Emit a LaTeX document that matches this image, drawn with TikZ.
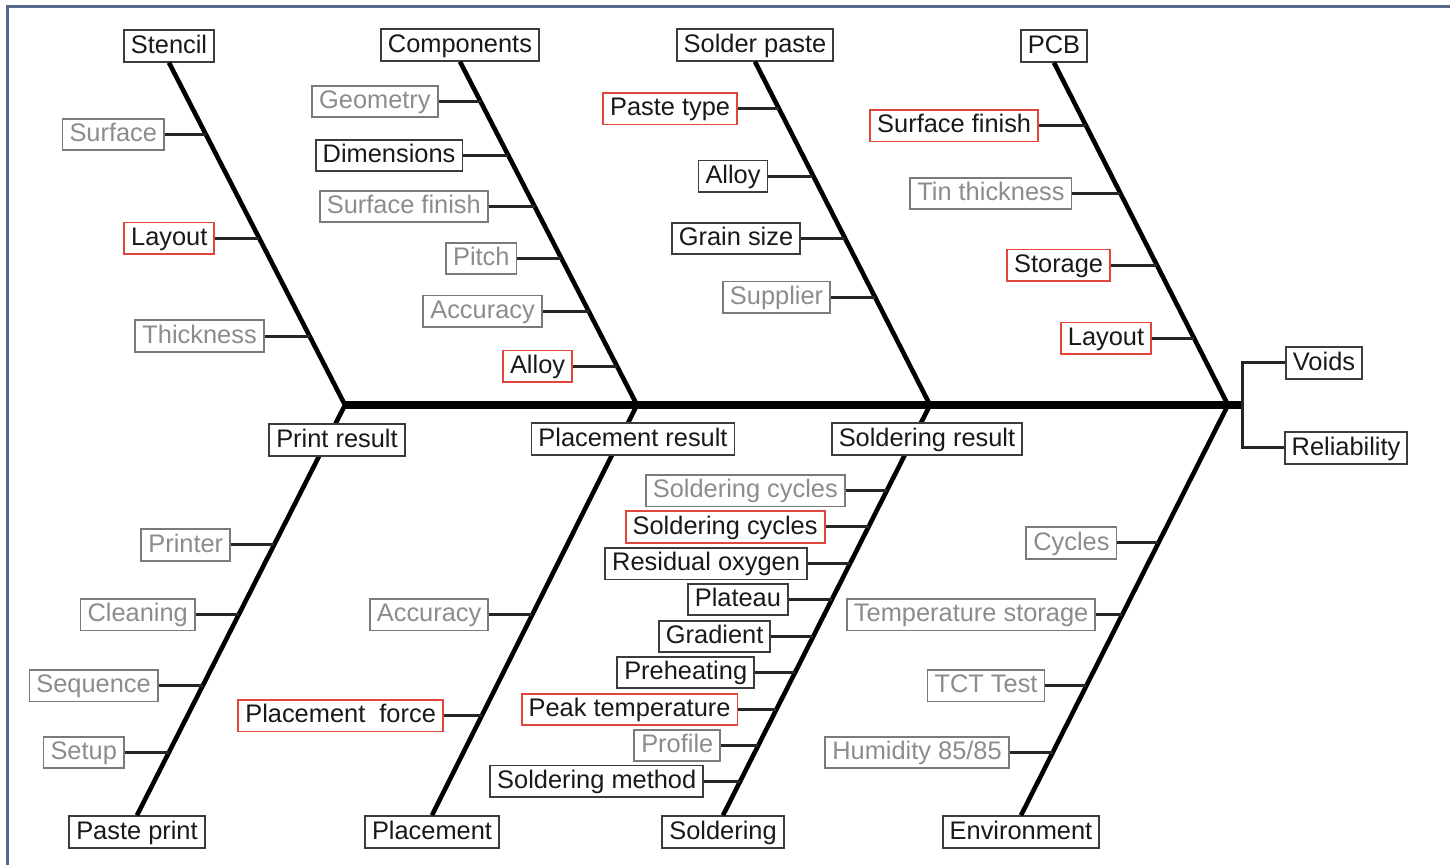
\documentclass[tikz,border=0pt]{standalone}
\usepackage{fontspec}
\setmainfont{Liberation Sans}
\usetikzlibrary{positioning}
\definecolor{darkline}{HTML}{3C3C3C}
\definecolor{greytext}{HTML}{8C8C8C}
\definecolor{greyline}{HTML}{7A7A7A}
\definecolor{redline}{HTML}{E2453C}
\definecolor{framecol}{HTML}{55688E}
\tikzset{
  box/.style = {rectangle, fill=white, line width=0.9pt, inner xsep=3.5pt, inner ysep=2pt, text height=9.5pt, text depth=2.3pt, font=\fontsize{12.7}{14}\selectfont},
  cause/.style = {box, draw=darkline, text=black!90},
  item/.style = {box, draw=greyline, text=greytext},
  keyitem/.style = {box, draw=redline, text=black!90},
  bone/.style = {line width=2.3pt, black},
  spine/.style = {line width=4pt, black},
  rib/.style = {line width=1.5pt, black!85},
  frame/.style = {line width=1.5pt, framecol}
}
\begin{document}
\begin{tikzpicture}[x=0.5pt, y=-0.5pt]
  \useasboundingbox (0,0) rectangle (1456,865);
  \draw[frame] (7,865) -- (7,7) -- (1450,7);

  % spine and head
  \coordinate (j1) at (345,405);
  \coordinate (j2) at (637,405);
  \coordinate (j3) at (930,405);
  \coordinate (j4) at (1228,405);
  \coordinate (head) at (1242,405);
  \draw[spine] (j1) -- (head);
  \node[cause] (voids) at (1324,363) {Voids};
  \node[cause] (rel) at (1346,448) {Reliability};
  \draw[rib] (voids.west) -| (head) |- (rel.west);

  % upper causes
  \node[cause] (stencil) at (169,46) {Stencil};
  \node[cause] (comp) at (460,45) {Components};
  \node[cause] (paste) at (755,45) {Solder paste};
  \node[cause] (pcb) at (1054,46) {PCB};

  \draw[bone] (stencil.south) -- coordinate[pos=.210] (st1) coordinate[pos=.513] (st2) coordinate[pos=.799] (st3) (j1);
  \draw[bone] (comp.south) -- coordinate[pos=.116] (co1) coordinate[pos=.273] (co2) coordinate[pos=.422] (co3)
    coordinate[pos=.573] (co4) coordinate[pos=.727] (co5) coordinate[pos=.887] (co6) (j2);
  \draw[bone] (paste.south) -- coordinate[pos=.137] (sp1) coordinate[pos=.334] (sp2) coordinate[pos=.515] (sp3) coordinate[pos=.686] (sp4) (j3);
  \draw[bone] (pcb.south) -- coordinate[pos=.184] (pc1) coordinate[pos=.382] (pc2) coordinate[pos=.592] (pc3) coordinate[pos=.805] (pc4) (j4);

  % lower causes
  \node[cause] (print) at (137,832) {Paste print};
  \node[cause] (place) at (432,832) {Placement};
  \node[cause] (solder) at (723,832) {Soldering};
  \node[cause] (env) at (1021,832) {Environment};

  \draw[bone] (j1) -- coordinate[pos=.341] (pr1) coordinate[pos=.511] (pr2) coordinate[pos=.684] (pr3) coordinate[pos=.847] (pr4) (print.north);
  \draw[bone] (j2) -- coordinate[pos=.511] (pl1) coordinate[pos=.757] (pl2) (place.north);
  \draw[bone] (j3) -- coordinate[pos=.209] (so1) coordinate[pos=.297] (so2) coordinate[pos=.387] (so3)
    coordinate[pos=.474] (so4) coordinate[pos=.564] (so5) coordinate[pos=.652] (so6)
    coordinate[pos=.742] (so7) coordinate[pos=.830] (so8) coordinate[pos=.917] (so9) (solder.north);
  \draw[bone] (j4) -- coordinate[pos=.336] (en1) coordinate[pos=.511] (en2) coordinate[pos=.684] (en3) coordinate[pos=.847] (en4) (env.north);

  % Stencil
  \node[item, left=20.5pt of st1] (st1b) {Surface};
  \node[keyitem, left=22pt of st2] (st2b) {Layout};
  \node[item, left=22.5pt of st3] (st3b) {Thickness};
  % Components
  \node[item, left=21pt of co1] (co1b) {Geometry};
  \node[cause, left=22.5pt of co2] (co2b) {Dimensions};
  \node[item, left=23pt of co3] (co3b) {Surface finish};
  \node[item, left=22pt of co4] (co4b) {Pitch};
  \node[item, left=23pt of co5] (co5b) {Accuracy};
  \node[keyitem, left=22pt of co6] (co6b) {Alloy};
  % Solder paste
  \node[keyitem, left=20.5pt of sp1] (sp1b) {Paste type};
  \node[cause, left=22.5pt of sp2] (sp2b) {Alloy};
  \node[cause, left=22pt of sp3] (sp3b) {Grain size};
  \node[item, left=22pt of sp4] (sp4b) {Supplier};
  % PCB
  \node[keyitem, left=23.5pt of pc1] (pc1b) {Surface finish};
  \node[item, left=24pt of pc2] (pc2b) {Tin thickness};
  \node[keyitem, left=23pt of pc3] (pc3b) {Storage};
  \node[keyitem, left=21pt of pc4] (pc4b) {Layout};
  % Paste print
  \node[item, left=21.5pt of pr1] (pr1b) {Printer};
  \node[item, left=21.5pt of pr2] (pr2b) {Cleaning};
  \node[item, left=22pt of pr3] (pr3b) {Sequence};
  \node[item, left=22pt of pr4] (pr4b) {Setup};
  % Placement
  \node[item, left=21.5pt of pl1] (pl1b) {Accuracy};
  \node[keyitem, left=19pt of pl2] (pl2b) {Placement\ \ force};
  % Soldering
  \node[item, left=20.5pt of so1] (so1b) {Soldering cycles};
  \node[keyitem, left=21.5pt of so2] (so2b) {Soldering cycles};
  \node[cause, left=21pt of so3] (so3b) {Residual oxygen};
  \node[cause, left=21.5pt of so4] (so4b) {Plateau};
  \node[cause, left=21pt of so5] (so5b) {Gradient};
  \node[cause, left=20pt of so6] (so6b) {Preheating};
  \node[keyitem, left=19pt of so7] (so7b) {Peak temperature};
  \node[item, left=18.5pt of so8] (so8b) {Profile};
  \node[cause, left=18pt of so9] (so9b) {Soldering method};
  % Environment
  \node[item, left=20.5pt of en1] (en1b) {Cycles};
  \node[item, left=13pt of en2] (en2b) {Temperature storage};
  \node[item, left=20.5pt of en3] (en3b) {TCT Test};
  \node[item, left=21.5pt of en4] (en4b) {Humidity 85/85};

  \foreach \r in {st1,st2,st3,co1,co2,co3,co4,co5,co6,sp1,sp2,sp3,sp4,pc1,pc2,pc3,pc4,
                  pr1,pr2,pr3,pr4,pl1,pl2,so1,so2,so3,so4,so5,so6,so7,so8,so9,en1,en2,en3,en4}
    \draw[rib] (\r b.east) -- (\r);

  % results on the spine
  \node[cause] (printres) at (337,440) {Print result};
  \node[cause] (placeres) at (633,439) {Placement result};
  \node[cause] (solderres) at (927,439) {Soldering result};
\end{tikzpicture}
\end{document}
